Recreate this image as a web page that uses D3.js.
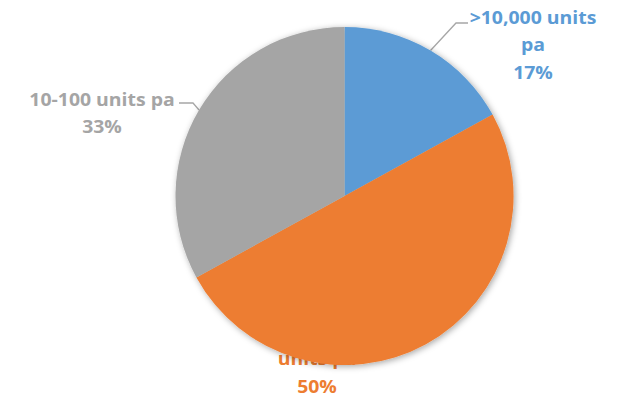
<!DOCTYPE html>
<html>
<head>
<meta charset="utf-8">
<script src="https://cdn.jsdelivr.net/npm/d3@7"></script>
<style>
  html, body { margin: 0; padding: 0; background: #fff; }
  svg { display: block; }
  .lbl { font-family: "Open Sans", Lato, sans-serif; font-weight: 700; font-size: 17.5px; }
</style>
</head>
<body>
<script>
// Annual volume bands and their shares
const categories = [">10,000 units pa", "100-10,000 units pa", "10-100 units pa"];
const labelLines = [[">10,000 units", "pa"], ["100-10,000", "units pa"], ["10-100 units pa"]];
const shares = [17, 50, 33];
const colors = ["#5B9BD5", "#ED7D31", "#A5A5A5"];

const W = 625, H = 403;
const cx = 344.5, cy = 196, R = 169;
const stretchX = 1.11;   // labels are set slightly wide

const svg = d3.select("body").append("svg")
  .attr("width", W).attr("height", H);

const defs = svg.append("defs");
const f = defs.append("filter").attr("id", "shadow")
  .attr("x", "-10%").attr("y", "-10%").attr("width", "120%").attr("height", "120%");
f.append("feDropShadow")
  .attr("dx", 1.5).attr("dy", 1.5).attr("stdDeviation", 3)
  .attr("flood-color", "#000").attr("flood-opacity", 0.35);

const pie = d3.pie().sort(null).value(d => d)(shares);
const arc = d3.arc().innerRadius(0).outerRadius(R);

// label placement: text centre x, first baseline y, leader elbow and end
const layout = [
  { x: 533, y: 24, elbow: [456, 23], end: [468, 23] },
  { x: 317, y: 338, elbow: null, end: null },
  { x: 102, y: 106, elbow: [193, 103], end: [179, 103] }
];
const lineH = 27.5;

// labels drawn first; the pie sits on top of any that overlap it
const labels = svg.append("g");
pie.forEach((p, i) => {
  const L = layout[i];
  const t = labels.append("text").attr("class", "lbl")
    .attr("fill", colors[i]).attr("text-anchor", "middle")
    .attr("transform", `translate(${L.x},${L.y}) scale(${stretchX},1)`);
  const lines = labelLines[i].concat([d3.format(".0f")(p.value) + "%"]);
  lines.forEach((s, k) => {
    t.append("tspan").attr("x", 0).attr("y", k * lineH).text(s);
  });
  if (L.elbow) {
    const mid = (p.startAngle + p.endAngle) / 2;
    const sx = cx + R * Math.sin(mid), sy = cy - R * Math.cos(mid);
    labels.append("polyline")
      .attr("points", [[sx, sy], L.elbow, L.end].map(q => q.join(",")).join(" "))
      .attr("fill", "none").attr("stroke", "#A6A6A6").attr("stroke-width", 1.3);
  }
});

const g = svg.append("g")
  .attr("transform", `translate(${cx},${cy})`)
  .attr("filter", "url(#shadow)");
g.selectAll("path").data(pie).join("path")
  .attr("d", arc)
  .attr("fill", (d, i) => colors[i]);
</script>
</body>
</html>
